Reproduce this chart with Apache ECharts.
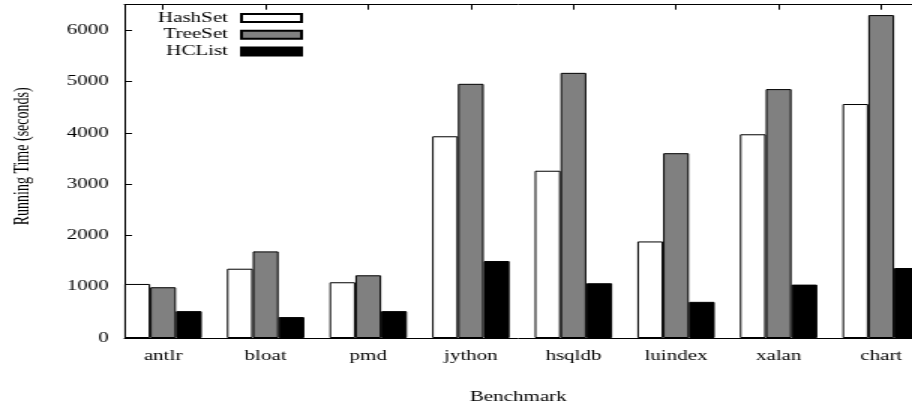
<!DOCTYPE html>
<html>
<head>
<meta charset="utf-8">
<script src="https://cdn.jsdelivr.net/npm/echarts@6/dist/echarts.min.js"></script>
<style>
  html, body { margin: 0; padding: 0; background: #fff; overflow: hidden; }
  #wrap { width: 912px; height: 409px; overflow: hidden; }
  #c { width: 608px; height: 409px; transform: scaleX(1.5); transform-origin: 0 0; }
</style>
</head>
<body>
<div id="wrap"><div id="c"></div></div>
<script>
// ---- data ----
const categories = ['antlr', 'bloat', 'pmd', 'jython', 'hsqldb', 'luindex', 'xalan', 'chart'];
const hashSet = [1054, 1351, 1087, 3934, 3262, 1883, 3973, 4563];
const treeSet = [990, 1689, 1223, 4957, 5171, 3604, 4854, 6297];
const hcList  = [524, 408, 524, 1501, 1068, 705, 1041, 1365];
const seriesNames = ['HashSet', 'TreeSet', 'HCList'];
const yTicks = [0, 1000, 2000, 3000, 4000, 5000, 6000];

const FONT = 'Liberation Serif';
const catIdx = categories.map((_, i) => i);
const toPts = arr => arr.map((v, i) => [i, v]);

const chart = echarts.init(document.getElementById('c'), null, { renderer: 'canvas' });

const barCommon = {
  type: 'bar',
  barWidth: 17.2,
  barGap: '0%',
  clip: true,
  itemStyle: { borderColor: '#000', borderWidth: 1 }
};

chart.setOption({
  animation: false,
  backgroundColor: '#fff',
  grid: { left: 82.47, right: 0, top: 4.7, bottom: 69.7, containLabel: false },
  legend: {
    data: seriesNames,
    orient: 'vertical',
    align: 'right',
    right: 406,
    top: 11,
    padding: 0,
    itemGap: 2.75,
    itemWidth: 40,
    itemHeight: 8,
    icon: 'rect',
    textStyle: { fontFamily: FONT, fontSize: 14, color: '#000', lineHeight: 14, padding: [0, 4, 0, 0] }
  },
  xAxis: [
    {
      type: 'value',
      position: 'bottom',
      min: -0.376,
      max: 7.3,
      splitLine: { show: false },
      axisLine: { show: true, onZero: false, lineStyle: { color: '#000', width: 1 } },
      axisTick: { show: true, inside: true, length: 5, customValues: catIdx, lineStyle: { color: '#000' } },
      axisLabel: {
        customValues: catIdx,
        formatter: v => categories[Math.round(v)] || '',
        fontFamily: FONT, fontSize: 14, color: '#000', margin: 11
      },
      name: 'Benchmark',
      nameLocation: 'middle',
      nameGap: 52,
      nameTextStyle: { fontFamily: FONT, fontSize: 14, color: '#000' }
    },
    {
      type: 'value',
      position: 'top',
      min: -0.376,
      max: 7.3,
      splitLine: { show: false },
      axisLine: { show: true, onZero: false, lineStyle: { color: '#000', width: 1 } },
      axisTick: { show: true, inside: true, length: 5, customValues: catIdx, lineStyle: { color: '#000' } },
      axisLabel: { show: false }
    }
  ],
  yAxis: {
    type: 'value',
    min: 0,
    max: 6500,
    interval: 1000,
    splitLine: { show: false },
    axisLine: { show: true, onZero: false, lineStyle: { color: '#000', width: 1 } },
    axisTick: { show: true, inside: true, length: 5, customValues: yTicks, lineStyle: { color: '#000' } },
    axisLabel: {
      customValues: yTicks,
      formatter: v => String(v),
      fontFamily: FONT, fontSize: 14, color: '#000', margin: 10.5
    },
    name: 'Running Time (seconds)',
    nameLocation: 'middle',
    nameGap: 61,
    nameRotate: 90,
    nameTextStyle: { fontFamily: FONT, fontSize: 14, color: '#000', padding: [0, 0, 0, 30] }
  },
  series: [
    Object.assign({}, barCommon, { name: seriesNames[0], data: toPts(hashSet), itemStyle: { color: '#fff', borderColor: '#000', borderWidth: 1 } }),
    Object.assign({}, barCommon, { name: seriesNames[1], data: toPts(treeSet), itemStyle: { color: '#808080', borderColor: '#000', borderWidth: 1 } }),
    Object.assign({}, barCommon, { name: seriesNames[2], data: toPts(hcList), itemStyle: { color: '#000', borderColor: '#000', borderWidth: 1 } })
  ]
});
</script>
</body>
</html>
